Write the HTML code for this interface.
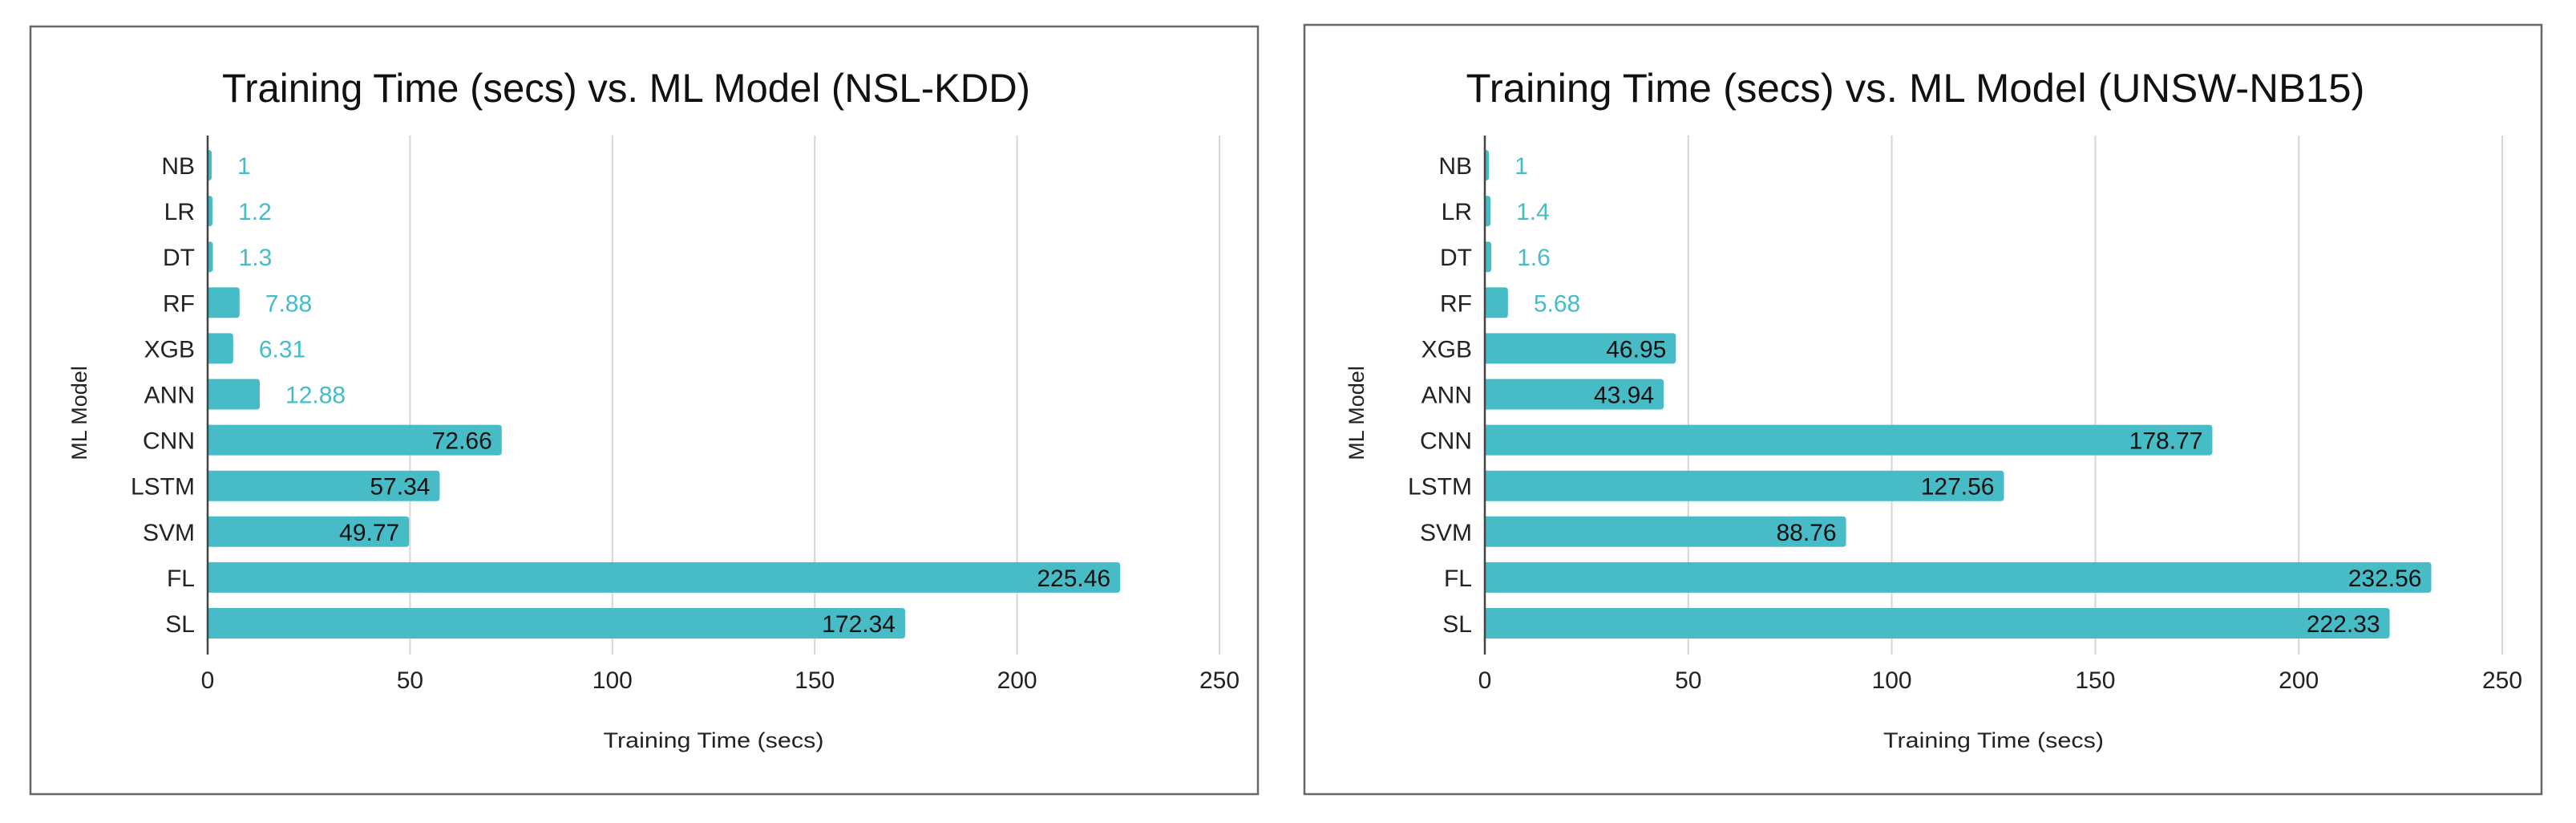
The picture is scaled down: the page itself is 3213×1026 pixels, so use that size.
<!DOCTYPE html>
<html><head><meta charset="utf-8"><style>
html,body{margin:0;padding:0;background:#fff;}
svg{display:block;font-family:"Liberation Sans",Arial,sans-serif;}
</style></head><body>
<svg id="chart" width="3213" height="1026" viewBox="0 0 3213 1026" xmlns="http://www.w3.org/2000/svg"></svg>
<script>
const categories = ["NB","LR","DT","RF","XGB","ANN","CNN","LSTM","SVM","FL","SL"];
const nslValues = [1,1.2,1.3,7.88,6.31,12.88,72.66,57.34,49.77,225.46,172.34];
const unswValues = [1,1.4,1.6,5.68,46.95,43.94,178.77,127.56,88.76,232.56,222.33];
const nslLabels = ["1","1.2","1.3","7.88","6.31","12.88","72.66","57.34","49.77","225.46","172.34"];
const unswLabels = ["1","1.4","1.6","5.68","46.95","43.94","178.77","127.56","88.76","232.56","222.33"];
const xTicks = [0,50,100,150,200,250];
const xTickLabels = ["0","50","100","150","200","250"];

const NS = "http://www.w3.org/2000/svg";
const svg = document.getElementById('chart');
function mk(tag, attrs, parent){
  const e = document.createElementNS(NS, tag);
  for (const k in attrs) e.setAttribute(k, attrs[k]);
  (parent||svg).appendChild(e);
  return e;
}
function panel(cfg){
  const g = mk('g', {});
  
  
  const box = mk('rect', {x:cfg.bx0, y:cfg.by0, width:cfg.bx1-cfg.bx0, height:990-cfg.by0, fill:'#fff', stroke:'#666', 'stroke-width':2.5}, g);
  
  
  const x0 = cfg.ax0, x1 = cfg.ax1, xmax = 250;
  const xs = v => x0 + (v / xmax) * (x1 - x0);
  const top = 169, bottom = 816, rowStart = 206, rowStep = 57.1, barH = 38;
  const ys = i => rowStart + i * rowStep;
  const t = mk('text', {x:cfg.titleX, y:127, 'text-anchor':'middle', 'font-size':50, fill:'#111', textLength:cfg.titleLen, lengthAdjust:'spacingAndGlyphs'}, g);
  t.textContent = cfg.title;
  
  
  xTicks.forEach((v, i) => {
    if (v !== 0) {
      const l = mk('line', {x1:xs(v), x2:xs(v), y1:top, y2:bottom, stroke:'#d6d6d6', 'stroke-width':2}, g);
      
      
    }
    const tl = mk('text', {x:xs(v), y:858, 'text-anchor':'middle', 'font-size':30, fill:'#222'}, g);
    tl.textContent = xTickLabels[i];
    
    
  });
  categories.forEach((c, i) => {
    const v = cfg.values[i];
    const w = Math.max(xs(v) - x0, 3);
    const yc = ys(i);
    const b = mk('path', {d:`M${x0},${yc-barH/2} h${w-4} q4,0 4,4 v${barH-8} q0,4 -4,4 h${-(w-4)} z`, fill:'#47bcc6'}, g);
    
    
    const cl = mk('text', {x:x0-16, y:yc+11, 'text-anchor':'end', 'font-size':30, fill:'#222'}, g);
    cl.textContent = c;
    
    
    const inside = w > 150;
    const vl = mk('text', {x: inside ? x0 + w - 12 : x0 + w + 32, y:yc+11, 'text-anchor': inside ? 'end' : 'start', 'font-size':30, fill: inside ? '#111' : '#45bcc7'}, g);
    vl.textContent = cfg.labels[i];
    
    
  });
  const ax = mk('line', {x1:x0, x2:x0, y1:top, y2:bottom, stroke:'#444', 'stroke-width':2.5}, g);
  
  
  const xt = mk('text', {x:(x0+x1)/2, y:932, 'text-anchor':'middle', 'font-size':27, fill:'#222', textLength:275, lengthAdjust:'spacingAndGlyphs'}, g);
  xt.textContent = 'Training Time (secs)';
  
  
  const yt = mk('text', {x:0, y:0, 'text-anchor':'middle', 'font-size':27, fill:'#222', transform:`translate(${cfg.ytx},515) rotate(-90)`}, g);
  yt.textContent = 'ML Model';
  
  
}
panel({name:'nsl-kdd-chart', bx0:38, bx1:1569, by0:33, ax0:259, ax1:1521, values:nslValues, labels:nslLabels, title:'Training Time (secs) vs. ML Model (NSL-KDD)', titleLen:1008, titleX:781, ytx:108});
panel({name:'unsw-nb15-chart', bx0:1627, bx1:3170, by0:31, ax0:1852, ax1:3121, values:unswValues, labels:unswLabels, title:'Training Time (secs) vs. ML Model (UNSW-NB15)', titleLen:1121, titleX:2389, ytx:1701});
</script>
</body></html>
